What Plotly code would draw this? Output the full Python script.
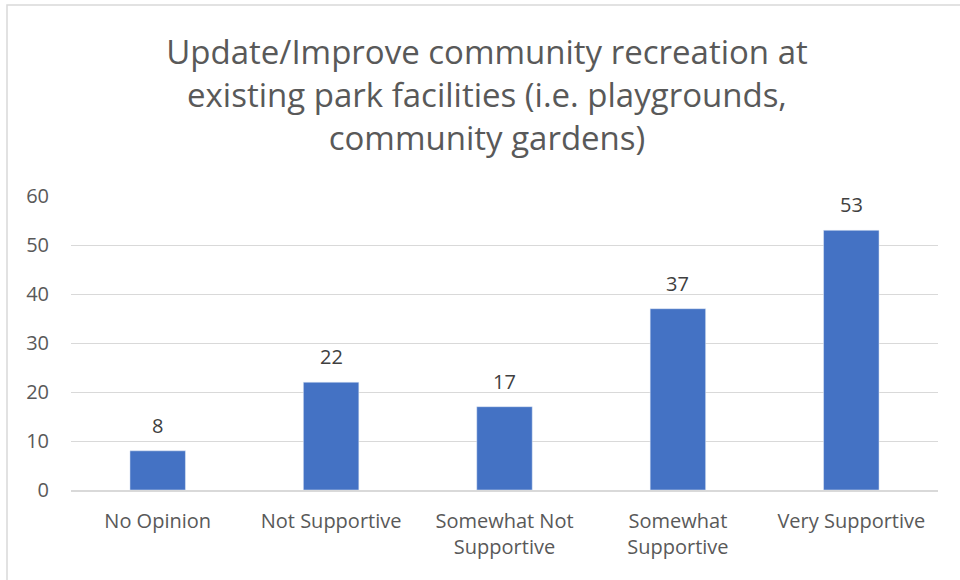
import plotly.graph_objects as go

categories = ["No Opinion", "Not Supportive", "Somewhat Not<br>Supportive",
              "Somewhat<br>Supportive", "Very Supportive"]
values = [8, 22, 17, 37, 53]
y_ticks = [0, 10, 20, 30, 40, 50, 60]
title_text = ("Update/Improve community recreation at<br>"
              "existing park facilities (i.e. playgrounds,<br>"
              "community gardens)")

FONT = "Open Sans"
GRAY = "#595959"

fig = go.Figure()
fig.add_trace(go.Bar(
    x=categories, y=values, marker_color="#4472C4", width=0.32,
    hoverinfo="x+y",
))

for c, v in zip(categories, values):
    fig.add_annotation(x=c, y=v, text=str(v), showarrow=False,
                       yanchor="bottom", yshift=10,
                       font=dict(family=FONT, size=20, color="#404040"))

fig.update_layout(
    width=960, height=580,
    margin=dict(l=71, r=22, t=196, b=90),
    paper_bgcolor="white", plot_bgcolor="white",
    title=dict(text=title_text, x=487/960, xanchor="center",
               y=1 - 64/580, yanchor="middle",
               font=dict(family=FONT, size=33, color=GRAY)),
    showlegend=False,
    font=dict(family=FONT, color=GRAY),
    shapes=[dict(type="rect", xref="paper", yref="paper",
                 x0=(7 - 71) / 867, x1=(965 - 71) / 867,
                 y0=(490 - 5) / 294, y1=(490 - 585) / 294,
                 line=dict(color="#d9d9d9", width=1.5), layer="below")],
)
fig.update_xaxes(showgrid=False, showline=True, linecolor="#d9d9d9",
                 linewidth=1.5, tickfont=dict(family=FONT, size=20, color=GRAY),
                 ticklabelstandoff=12)
fig.update_yaxes(range=[0, 60], tickvals=y_ticks, showgrid=True,
                 gridcolor="#d9d9d9", gridwidth=1.2, zeroline=False,
                 showline=False, tickfont=dict(family=FONT, size=20, color=GRAY),
                 ticklabelstandoff=21)

fig.write_html("out.html", config={"displayModeBar": False},
               post_script="document.body.style.margin='0';")
